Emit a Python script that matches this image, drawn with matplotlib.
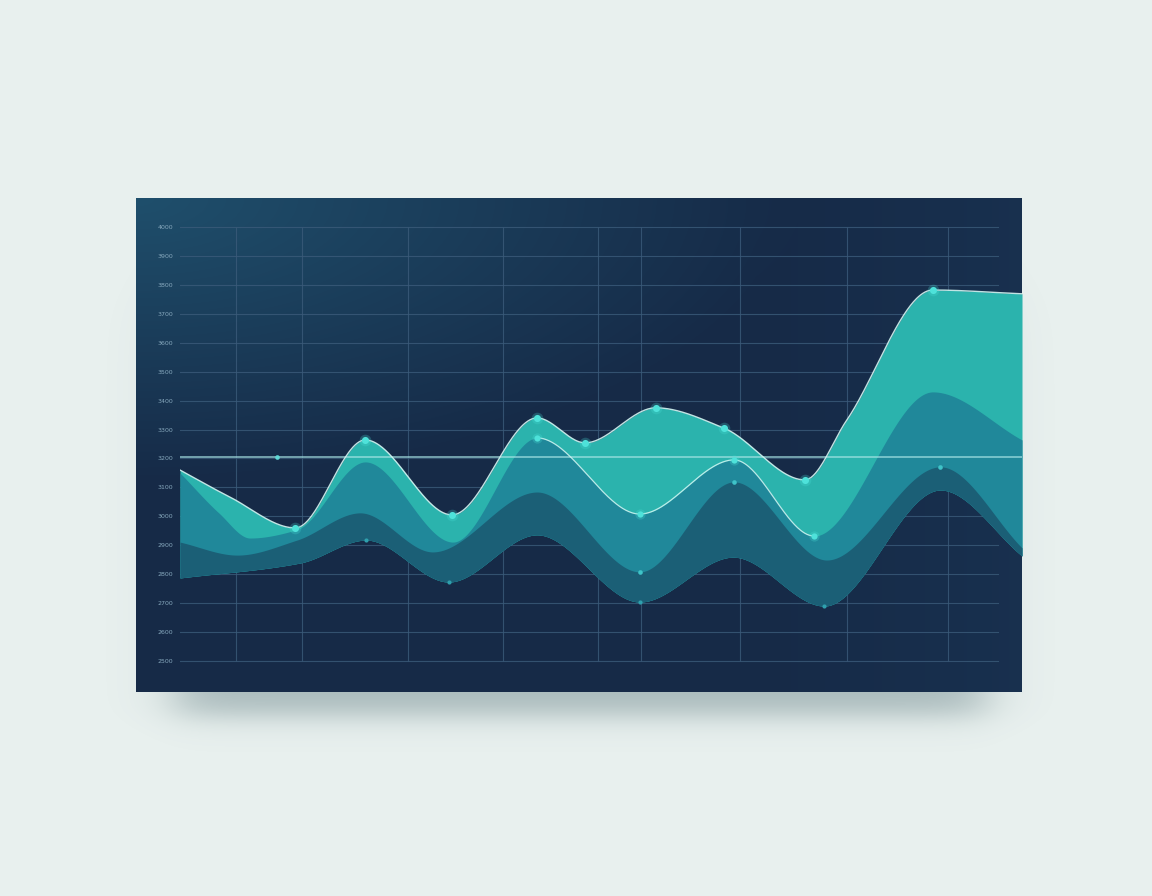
import numpy as np
import matplotlib
matplotlib.use('Agg')
import matplotlib.pyplot as plt
from matplotlib.colors import to_rgb

# 数据：x 为时间位置，y 为数值
x_top = [0, 5.9, 13.7, 22.0, 32.3, 42.4, 48.1, 56.5, 64.6, 74.2, 79.2, 89.4, 100]
y_top = [3160, 3067, 2960, 3264, 3005, 3340, 3254, 3375, 3305, 3126, 3333, 3782, 3769]
top_dots = [2, 3, 4, 5, 6, 7, 8, 9, 11]

x_mid = [0, 4.6, 8.3, 13.8, 22.0, 32.4, 42.4, 54.6, 65.8, 75.3, 89.4, 100]
y_mid = [3150, 3012, 2925, 2953, 3188, 2911, 3271, 3008, 3195, 2932, 3430, 3264]
mid_dots = [6, 7, 8, 9]

x_low = [0, 6.8, 13.9, 21.4, 30.0, 42.4, 54.6, 65.8, 76.8, 90.3, 100]
y_low = [2911, 2866, 2918, 3012, 2877, 3084, 2808, 3119, 2849, 3171, 2891]
low_dots = [6, 7, 9]

x_base = [0, 14.3, 22.1, 31.9, 42.4, 54.6, 65.7, 76.5, 90.3, 100]
y_base = [2787, 2839, 2918, 2773, 2936, 2704, 2859, 2690, 3091, 2863]
base_dots = [2, 3, 5, 7]

threshold = 3205
threshold_dot_x = 11.5

y_ticks = list(range(2500, 4001, 100))
x_grid = [6.7, 14.5, 27.1, 38.4, 49.6, 54.8, 66.5, 79.2, 91.2]


def pchip(x, y, n=800):
    # 单调三次插值，让曲线平滑地经过每个点
    x = np.asarray(x, float)
    y = np.asarray(y, float)
    h = np.diff(x)
    d = np.diff(y) / h
    m = np.zeros_like(y)
    for i in range(1, len(y) - 1):
        if d[i - 1] * d[i] > 0:
            w1 = 2 * h[i] + h[i - 1]
            w2 = h[i] + 2 * h[i - 1]
            m[i] = (w1 + w2) / (w1 / d[i - 1] + w2 / d[i])
    m[0] = d[0]
    m[-1] = d[-1]
    xs = np.linspace(x[0], x[-1], n)
    idx = np.clip(np.searchsorted(x, xs) - 1, 0, len(h) - 1)
    t = (xs - x[idx]) / h[idx]
    h00 = 2 * t**3 - 3 * t**2 + 1
    h10 = t**3 - 2 * t**2 + t
    h01 = -2 * t**3 + 3 * t**2
    h11 = t**3 - t**2
    ys = h00 * y[idx] + h10 * h[idx] * m[idx] + h01 * y[idx + 1] + h11 * h[idx] * m[idx + 1]
    return xs, ys


W, H = 1152, 896
fig = plt.figure(figsize=(W / 100, H / 100), dpi=100)
fig.patch.set_facecolor('#e8f0ee')

# 背景层：阴影 + 深色面板渐变
bg = fig.add_axes([0, 0, 1, 1])
bg.set_xlim(0, W)
bg.set_ylim(H, 0)
bg.axis('off')

X, Y = np.meshgrid(np.arange(W), np.arange(H))
sx = 0.5 * (np.tanh((X - 175) / 30) - np.tanh((X - 985) / 30))
sy = 0.5 * (np.tanh((Y - 300) / 40) - np.tanh((Y - 715) / 16))
shadow = np.zeros((H, W, 4))
shadow[..., :3] = to_rgb('#4d6b72')
shadow[..., 3] = 0.40 * sx * sy
bg.imshow(shadow, extent=(0, W, H, 0), zorder=1)

px0, px1, py0, py1 = 136, 1022, 198, 692
u, v = np.meshgrid(np.linspace(0, 1, px1 - px0), np.linspace(0, 1, py1 - py0))
c_light = np.array(to_rgb('#1f4f6c'))
c_dark = np.array(to_rgb('#162a47'))
c_right = np.array(to_rgb('#1b3858'))
t = np.clip(np.sqrt(u**2 + (v * 1.3)**2) / 0.75, 0, 1)[..., None]
panel = c_light * (1 - t) + c_dark * t
s = (np.clip((u - 0.7) / 0.3, 0, 1) * 0.45)[..., None]
panel = panel * (1 - s) + c_right * s
bg.imshow(panel, extent=(px0, px1, py1, py0), zorder=2)

# 数据坐标轴
ax = fig.add_axes([180 / W, (H - py1) / H, 842 / W, (py1 - py0) / H])
ax.set_facecolor('none')
ax.set_xlim(0, 100)
ax.set_ylim(2393, 4100)
for sp in ax.spines.values():
    sp.set_visible(False)

grid_c = '#3b5b7a'
for yt in y_ticks:
    ax.axhline(yt, xmin=0, xmax=0.9715, color=grid_c, lw=0.8, alpha=0.8, zorder=1)
ax.vlines(x_grid, y_ticks[0], y_ticks[-1], color=grid_c, lw=0.8, alpha=0.8, zorder=1)

ax.set_yticks(y_ticks)
ax.set_yticklabels([str(v) for v in y_ticks])
ax.set_xticks([])
ax.tick_params(axis='y', length=0, pad=5, labelsize=4.5, labelcolor='#86a8bd')

xs, top = pchip(x_top, y_top)
_, mid = pchip(x_mid, y_mid)
_, low = pchip(x_low, y_low)
_, base = pchip(x_base, y_base)

ax.fill_between(xs, top, base, color='#2bb3ad', lw=0, zorder=2)
ax.fill_between(xs, mid, base, color='#20889a', lw=0, zorder=4)
ax.fill_between(xs, low, base, color='#1b5f76', lw=0, zorder=5)

# 阈值线（压在填充之上，半透明）
ax.axhline(threshold, color='#a6e3e4', lw=1.2, alpha=0.75, zorder=5.5)

ax.plot(xs, top, color='#d5f7f4', lw=1.0, alpha=0.9, zorder=6)
mask = (xs >= 42.4) & (xs <= 75.3)
ax.plot(xs[mask], mid[mask], color='#d5f7f4', lw=0.9, alpha=0.85, zorder=6)

# 数据点
xt = np.array(x_top)[top_dots]; yt_ = np.array(y_top)[top_dots]
ax.scatter(xt, yt_, s=70, color='#49e0d8', alpha=0.25, lw=0, zorder=7)
ax.scatter(xt, yt_, s=26, color='#4ee2da', lw=0, zorder=8)
xm = np.array(x_mid)[mid_dots]; ym = np.array(y_mid)[mid_dots]
ax.scatter(xm, ym, s=55, color='#49e0d8', alpha=0.25, lw=0, zorder=7)
ax.scatter(xm, ym, s=20, color='#4ee2da', lw=0, zorder=8)
ax.scatter(np.array(x_low)[low_dots], np.array(y_low)[low_dots], s=11,
           color='#3fc3c8', lw=0, zorder=8)
ax.scatter(np.array(x_base)[base_dots], np.array(y_base)[base_dots], s=9,
           color='#2f9fad', lw=0, zorder=8)
ax.scatter([threshold_dot_x], [threshold], s=11, color='#5fd8d6', lw=0, zorder=8)

fig.savefig('out.png', dpi=100, facecolor=fig.get_facecolor())
